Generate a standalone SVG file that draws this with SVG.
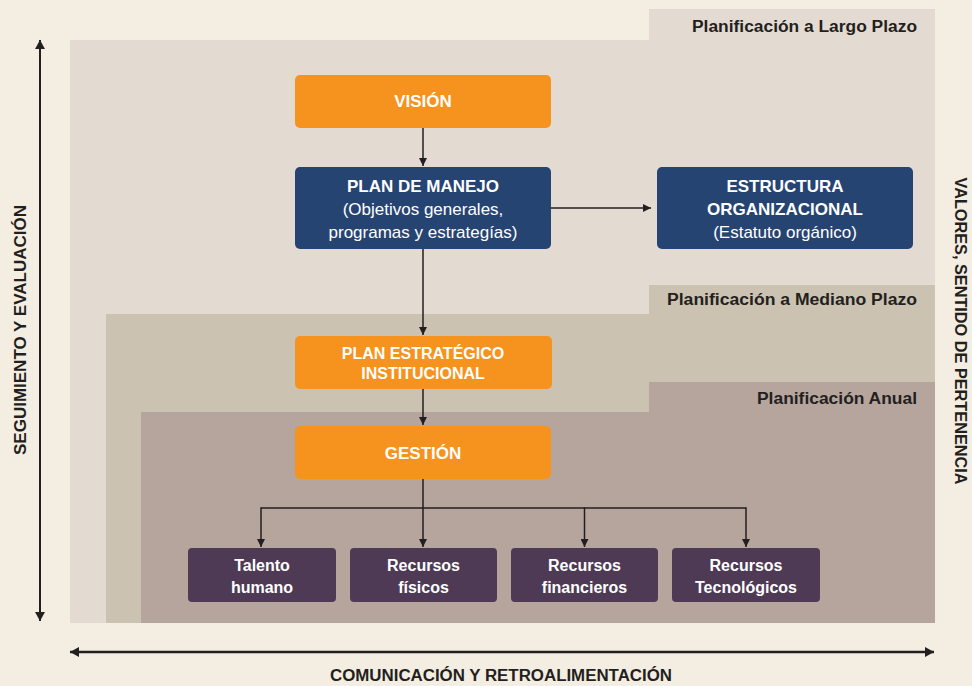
<svg xmlns="http://www.w3.org/2000/svg" width="972" height="686" viewBox="0 0 972 686">
<defs>
<marker id="ah" markerWidth="10" markerHeight="8" refX="8" refY="4" orient="auto" markerUnits="userSpaceOnUse">
<path d="M0,0 L8,4 L0,8 Z" fill="#231F20"/>
</marker>
<marker id="ah2" markerWidth="12" markerHeight="10" refX="9" refY="5" orient="auto-start-reverse" markerUnits="userSpaceOnUse">
<path d="M0,0 L9,5 L0,10 Z" fill="#231F20"/>
</marker>
<style>
.t{font-family:"Liberation Sans",Arial,sans-serif;font-weight:700;fill:#fff;font-size:16px;text-anchor:middle}
.b{font-size:17px}
.r{font-weight:400}
.tab{font-family:"Liberation Sans",Arial,sans-serif;font-weight:700;fill:#231F20;font-size:16px;text-anchor:end}
.ax{font-family:"Liberation Sans",Arial,sans-serif;font-weight:700;fill:#231F20;font-size:16px;text-anchor:middle}
.or{fill:#F6921E}
.bl{fill:#264472}
.pu{fill:#4E3A55}
.c{stroke:#231F20;stroke-width:1.5;fill:none}
</style>
</defs>
<rect width="972" height="686" fill="#F4EDE1"/>
<g id="layers">
<rect x="70" y="40" width="865" height="583" fill="#E3DBD2"/>
<rect x="649" y="9" width="286" height="32" fill="#E3DBD2"/>
<rect x="106" y="314" width="829" height="309" fill="#CCC2B1"/>
<rect x="649" y="285" width="286" height="30" fill="#CCC2B1"/>
<rect x="141" y="412" width="794" height="211" fill="#B6A59C"/>
<rect x="649" y="382" width="286" height="31" fill="#B6A59C"/>
<text class="tab" x="917" y="32" textLength="225" lengthAdjust="spacingAndGlyphs">Planificación  a Largo Plazo</text>
<text class="tab" x="917" y="305" textLength="250" lengthAdjust="spacingAndGlyphs">Planificación  a Mediano Plazo</text>
<text class="tab" x="917" y="404" textLength="160" lengthAdjust="spacingAndGlyphs">Planificación Anual</text>
</g>
<g id="connectors">
<line class="c" x1="423" y1="128" x2="423" y2="166" marker-end="url(#ah)"/>
<line class="c" x1="551" y1="208" x2="651" y2="208" marker-end="url(#ah)"/>
<line class="c" x1="423" y1="249" x2="423" y2="335" marker-end="url(#ah)"/>
<line class="c" x1="423" y1="389" x2="423" y2="425" marker-end="url(#ah)"/>
<path class="c" d="M423,479 V508 M261,508 H746"/>
<line class="c" x1="261" y1="507.25" x2="261" y2="547" marker-end="url(#ah)"/>
<line class="c" x1="423" y1="508" x2="423" y2="547" marker-end="url(#ah)"/>
<line class="c" x1="584.5" y1="507.25" x2="584.5" y2="547" marker-end="url(#ah)"/>
<line class="c" x1="746" y1="507.25" x2="746" y2="547" marker-end="url(#ah)"/>
<line x1="40" y1="40" x2="40" y2="621" stroke="#231F20" stroke-width="2" marker-start="url(#ah2)" marker-end="url(#ah2)"/>
<line x1="70" y1="652" x2="934" y2="652" stroke="#231F20" stroke-width="2.5" marker-start="url(#ah2)" marker-end="url(#ah2)"/>
</g>
<g id="vision">
<rect class="or" x="295" y="75" width="256" height="53" rx="5"/>
<text class="t b" x="423" y="107">VISIÓN</text>
</g>
<g id="plan-manejo">
<rect class="bl" x="295" y="167" width="256" height="82" rx="5"/>
<text class="t b" x="423" y="192">PLAN DE MANEJO</text>
<text class="t b r" x="423" y="215">(Objetivos generales,</text>
<text class="t b r" x="423" y="238">programas y estrategías)</text>
</g>
<g id="estructura">
<rect class="bl" x="657" y="167" width="256" height="82" rx="5"/>
<text class="t b" x="785" y="192">ESTRUCTURA</text>
<text class="t b" x="785" y="215">ORGANIZACIONAL</text>
<text class="t b r" x="785" y="238">(Estatuto orgánico)</text>
</g>
<g id="plan-estrategico">
<rect class="or" x="295" y="336" width="257" height="53" rx="5"/>
<text class="t" x="423" y="359" font-size="16.4">PLAN ESTRATÉGICO</text>
<text class="t" x="423" y="379" font-size="16.4">INSTITUCIONAL</text>
</g>
<g id="gestion">
<rect class="or" x="295" y="426" width="256" height="53" rx="5"/>
<text class="t b" x="423" y="459">GESTIÓN</text>
</g>
<g id="talento">
<rect class="pu" x="188" y="548" width="148" height="54" rx="4"/>
<text class="t" x="262" y="571">Talento</text>
<text class="t" x="262" y="593">humano</text>
</g>
<g id="fisicos">
<rect class="pu" x="350" y="548" width="147" height="54" rx="4"/>
<text class="t" x="423.5" y="571">Recursos</text>
<text class="t" x="423.5" y="593">físicos</text>
</g>
<g id="financieros">
<rect class="pu" x="511" y="548" width="147" height="54" rx="4"/>
<text class="t" x="584.5" y="571">Recursos</text>
<text class="t" x="584.5" y="593">financieros</text>
</g>
<g id="tecnologicos">
<rect class="pu" x="672" y="548" width="148" height="54" rx="4"/>
<text class="t" x="746" y="571">Recursos</text>
<text class="t" x="746" y="593">Tecnológicos</text>
</g>
<g id="axis-labels">
<text class="ax" transform="translate(26,330) rotate(-90)" textLength="250" lengthAdjust="spacingAndGlyphs">SEGUIMIENTO Y EVALUACIÓN</text>
<text class="ax" transform="translate(955,331) rotate(90)" textLength="307" lengthAdjust="spacingAndGlyphs">VALORES, SENTIDO DE PERTENENCIA</text>
<text class="ax" x="501" y="681" font-size="17" textLength="342" lengthAdjust="spacingAndGlyphs">COMUNICACIÓN Y RETROALIMENTACIÓN</text>
</g>
</svg>
